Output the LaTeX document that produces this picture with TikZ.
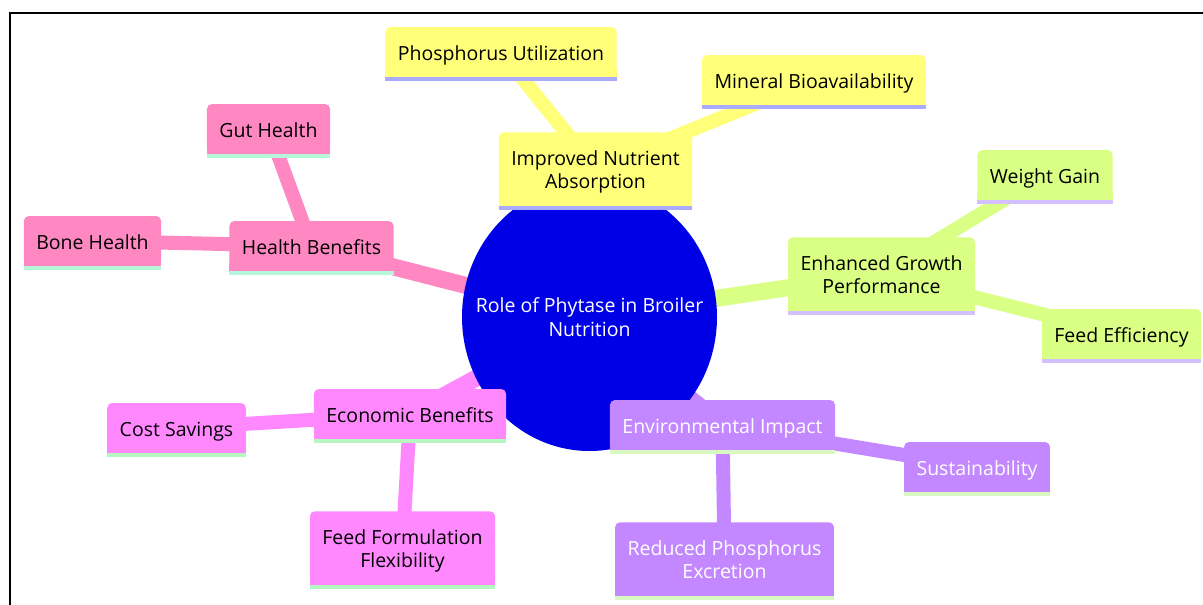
\documentclass[tikz,border=0pt]{standalone}
\usepackage{fontspec}
\setmainfont{Open Sans}

\definecolor{rootfill}{HTML}{0000E6}
\definecolor{ylwfill}{HTML}{FFFF7A}
\definecolor{ylwline}{HTML}{AAAAFF}
\definecolor{growfill}{HTML}{D9FF85}
\definecolor{growline}{HTML}{D4BFFF}
\definecolor{envfill}{HTML}{C388FF}
\definecolor{envline}{HTML}{D9F7C0}
\definecolor{econfill}{HTML}{FF88FF}
\definecolor{econline}{HTML}{B6F7C0}
\definecolor{hlthfill}{HTML}{FF88C2}
\definecolor{hlthline}{HTML}{B6F7DC}

\pgfdeclarelayer{edges}
\pgfdeclarelayer{disc}
\pgfsetlayers{edges,disc,main}

\newcommand{\mmfont}{\fontsize{19.5}{23.5}\selectfont}
% struts for the first and last line of a box
\newcommand{\mmup}{\rule[-5pt]{0pt}{26pt}}
\newcommand{\mmdn}{\rule[-5pt]{0pt}{5pt}}
% square bottom corners and the coloured line under a box
\newcommand{\mmstrip}[3]{%
  \fill[#2] ([yshift=8pt]#1.south west) rectangle (#1.south east);
  \fill[#3] (#1.south west) rectangle ([yshift=-4pt]#1.south east);
}

\tikzset{
  topic/.style={rectangle, rounded corners=5pt, inner xsep=12.5pt, inner ysep=12pt,
    minimum height=50pt, align=center, font=\mmfont, text=black,
    execute at begin node=\mmup},
  ylwbox/.style={topic, fill=ylwfill},
  growbox/.style={topic, fill=growfill},
  envbox/.style={topic, fill=envfill, text=white},
  econbox/.style={topic, fill=econfill},
  hlthbox/.style={topic, fill=hlthfill},
  roottext/.style={inner sep=0pt, align=center, font=\mmfont, text=white},
  rootlink/.style={line width=17pt},
  sublink/.style={line width=14pt}
}

\begin{document}
\begin{tikzpicture}[x=1pt,y=-1pt]
\useasboundingbox (0,0) rectangle (1203,605);
\draw[line width=2pt] (10,605) -- (10,12.8) -- (1203,12.8);

\node[roottext] (root) at (589.5,317) {Role of Phytase in Broiler\\Nutrition};
\begin{pgfonlayer}{disc}
\fill[rootfill] (root.center) ellipse [x radius=127.5, y radius=134];
\end{pgfonlayer}

% sections
\node[ylwbox] (absorb) at (595.5,169) {\mmup Improved Nutrient\\Absorption\mmdn};
\node[ylwbox] (phosutil) at (501,52) {Phosphorus Utilization};
\node[ylwbox] (mineral) at (814,80) {Mineral Bioavailability};

\node[growbox] (growth) at (881.5,274) {\mmup Enhanced Growth\\Performance\mmdn};
\node[growbox] (weight) at (1045,175) {Weight Gain};
\node[growbox] (feedeff) at (1121.5,334) {Feed Efficiency};

\node[envbox] (environ) at (722.5,425) {Environmental Impact};
\node[envbox] (sustain) at (977,467) {Sustainability};
\node[envbox] (excretion) at (724.5,559) {\mmup Reduced Phosphorus\\Excretion\mmdn};

\node[econbox] (econ) at (410,414) {Economic Benefits};
\node[econbox] (cost) at (176.5,428) {Cost Savings};
\node[econbox] (flex) at (402.5,548) {\mmup Feed Formulation\\Flexibility\mmdn};

\node[hlthbox] (health) at (311.5,246) {Health Benefits};
\node[hlthbox] (gut) at (268.5,129) {Gut Health};
\node[hlthbox] (bone) at (92.5,241) {Bone Health};

\foreach \n in {absorb,phosutil,mineral} {\mmstrip{\n}{ylwfill}{ylwline}}
\foreach \n in {growth,weight,feedeff} {\mmstrip{\n}{growfill}{growline}}
\foreach \n in {environ,sustain,excretion} {\mmstrip{\n}{envfill}{envline}}
\foreach \n in {econ,cost,flex} {\mmstrip{\n}{econfill}{econline}}
\foreach \n in {health,gut,bone} {\mmstrip{\n}{hlthfill}{hlthline}}

% links
\begin{pgfonlayer}{edges}
\draw[rootlink, ylwfill] (root.center) -- (absorb.center);
\draw[sublink, ylwfill] (absorb.center) -- (phosutil.center);
\draw[sublink, ylwfill] (absorb.center) -- (mineral.center);
\draw[rootlink, growfill] (root.center) -- (growth.center);
\draw[sublink, growfill] (growth.center) -- (weight.center);
\draw[sublink, growfill] (growth.center) -- (feedeff.center);
\draw[rootlink, envfill] (root.center) -- (environ.center);
\draw[sublink, envfill] (environ.center) -- (sustain.center);
\draw[sublink, envfill] (environ.center) -- (excretion.center);
\draw[rootlink, econfill] (root.center) -- (econ.center);
\draw[sublink, econfill] (econ.center) -- (cost.center);
\draw[sublink, econfill] (econ.center) -- (flex.center);
\draw[rootlink, hlthfill] (root.center) -- (health.center);
\draw[sublink, hlthfill] (health.center) -- (gut.center);
\draw[sublink, hlthfill] (health.center) -- (bone.center);
\end{pgfonlayer}
\end{tikzpicture}
\end{document}
